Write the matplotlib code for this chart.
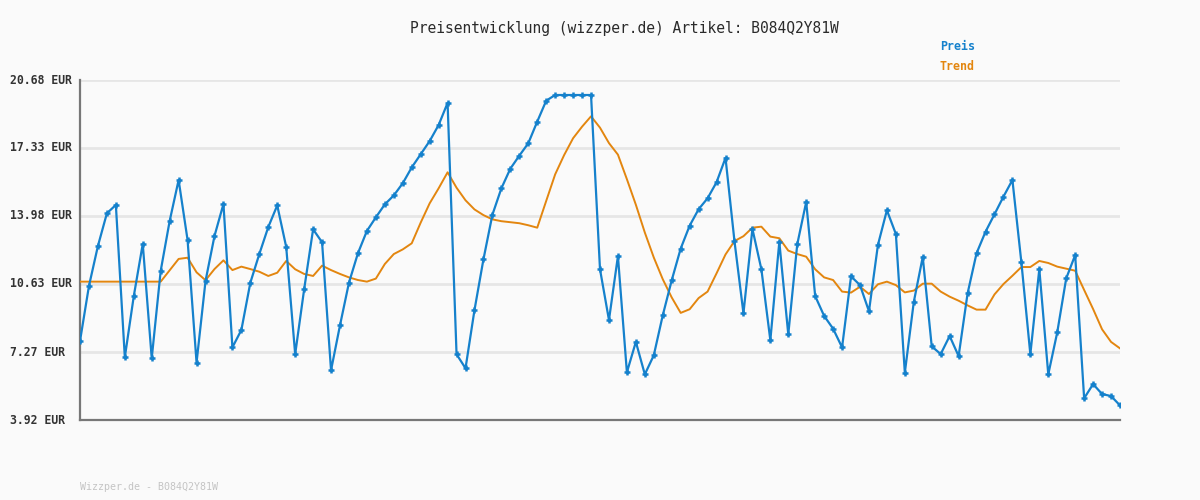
import numpy as np
import matplotlib.pyplot as plt

# price history (EUR), one value per sample
price = [7.81, 10.53, 12.50, 14.11, 14.52, 7.01, 10.03, 12.60, 6.96, 11.27,
         13.73, 15.75, 12.79, 6.75, 10.77, 12.99, 14.57, 7.50, 8.36, 10.69,
         12.10, 13.43, 14.50, 12.45, 7.16, 10.36, 13.32, 12.68, 6.37, 8.59,
         10.69, 12.14, 13.24, 13.91, 14.55, 14.99, 15.59, 16.37, 17.02, 17.67,
         18.46, 19.55, 7.16, 6.47, 9.34, 11.84, 14.04, 15.34, 16.31, 16.95,
         17.56, 18.63, 19.66, 19.94, 19.94, 19.94, 19.94, 19.94, 11.35, 8.85,
         12.00, 6.27, 7.77, 6.17, 7.11, 9.08, 10.81, 12.37, 13.50, 14.31,
         14.85, 15.64, 16.84, 12.73, 9.18, 13.34, 11.35, 7.85, 12.70, 8.14,
         12.58, 14.67, 10.03, 9.05, 8.42, 7.50, 11.00, 10.57, 9.28, 12.55,
         14.26, 13.09, 6.25, 9.74, 11.96, 7.55, 7.17, 8.06, 7.07, 10.16,
         12.14, 13.20, 14.06, 14.93, 15.75, 11.69, 7.16, 11.36, 6.17, 8.24,
         10.90, 12.05, 4.99, 5.69, 5.20, 5.10, 4.64]

trend = [10.74, 10.74, 10.74, 10.74, 10.74, 10.74, 10.74, 10.74, 10.74, 10.74,
         11.30, 11.86, 11.92, 11.20, 10.81, 11.36, 11.79, 11.31, 11.48, 11.36,
         11.23, 11.02, 11.18, 11.76, 11.35, 11.12, 11.02, 11.53, 11.31, 11.12,
         10.95, 10.82, 10.74, 10.89, 11.61, 12.10, 12.33, 12.63, 13.65, 14.60,
         15.34, 16.13, 15.37, 14.75, 14.30, 14.02, 13.81, 13.72, 13.67, 13.62,
         13.52, 13.40, 14.72, 16.03, 16.98, 17.81, 18.38, 18.89, 18.33, 17.57,
         17.00, 15.79, 14.53, 13.16, 11.93, 10.86, 9.96, 9.20, 9.38, 9.93,
         10.25, 11.15, 12.08, 12.74, 12.98, 13.40, 13.45, 12.96, 12.88, 12.27,
         12.10, 11.97, 11.35, 10.95, 10.82, 10.25, 10.20, 10.49, 10.13, 10.61,
         10.74, 10.57, 10.21, 10.30, 10.64, 10.64, 10.25, 10.00, 9.80, 9.57,
         9.36, 9.36, 10.11, 10.62, 11.03, 11.46, 11.46, 11.76, 11.66, 11.48,
         11.38, 11.28, 10.33, 9.39, 8.39, 7.77, 7.45]

y_ticks = [3.92, 7.27, 10.63, 13.98, 17.33, 20.68]
y_labels = ['3.92 EUR', '7.27 EUR', '10.63 EUR', '13.98 EUR', '17.33 EUR', '20.68 EUR']

article = 'B084Q2Y81W'
blue = '#1581cc'
orange = '#e3860f'
bg = '#fafafa'
mono = ['DejaVu Sans Mono']

fig = plt.figure(figsize=(12, 5), dpi=100, facecolor=bg)
ax = fig.add_axes([80/1200, 80/500, 1040/1200, 340/500], facecolor=bg)

x = np.arange(len(price))
ax.plot(x, trend, color=orange, lw=1.4, zorder=3)
ax.plot(x, price, color=blue, lw=1.6, marker='+', ms=4.5, mew=1.8, zorder=4)

ax.set_xlim(0, len(price) - 1)
ax.set_ylim(y_ticks[0], y_ticks[-1])
for v in y_ticks[1:]:
    ax.axhline(v, color='#e6e6e6', lw=2.0, zorder=1)

ax.set_xticks([])
ax.set_yticks([])
for side in ['top', 'right']:
    ax.spines[side].set_visible(False)
for side in ['left', 'bottom']:
    ax.spines[side].set_color('#777777')
    ax.spines[side].set_linewidth(1.6)

# y labels are left-aligned at the figure edge
for v, lab in zip(y_ticks, y_labels):
    fy = (80 + (y_ticks[-1] - v) / (y_ticks[-1] - y_ticks[0]) * 340) / 500
    fig.text(10/1200, 1 - fy, lab, ha='left', va='center', fontsize=8.3,
             family=mono, weight='bold', color='#333333')

fig.text(624/1200, 1 - 28/500, f'Preisentwicklung (wizzper.de) Artikel: {article}',
         ha='center', va='center', fontsize=10.5, family=mono, color='#2a2a2a')
fig.text(940/1200, 1 - 47/500, 'Preis', ha='left', va='center', fontsize=8.4,
         family=mono, weight='bold', color=blue)
fig.text(940/1200, 1 - 67/500, 'Trend', ha='left', va='center', fontsize=8.4,
         family=mono, weight='bold', color=orange)
fig.text(80/1200, 1 - 487/500, f'Wizzper.de - {article}', ha='left', va='center',
         fontsize=7.2, family=mono, color='#c4c4c4')

fig.savefig('out.png', dpi=100, facecolor=bg)
